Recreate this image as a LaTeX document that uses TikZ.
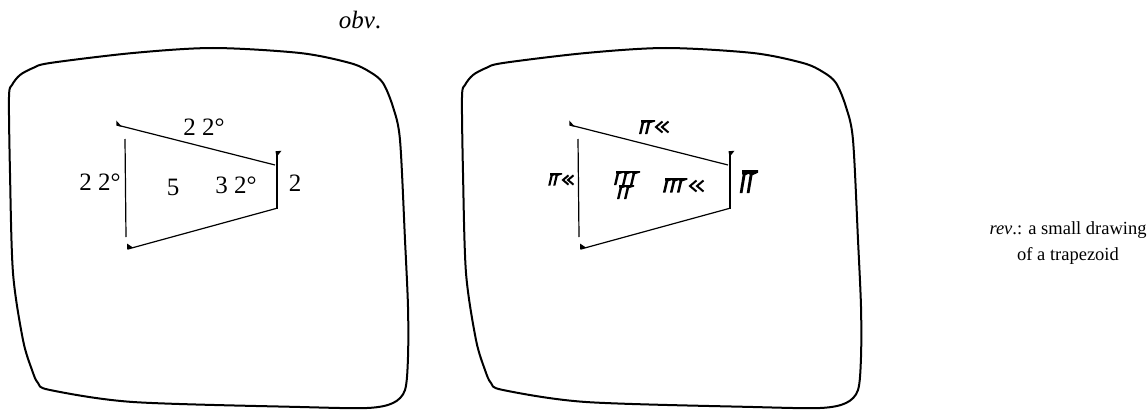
\documentclass[tikz,border=0pt]{standalone}
\usepackage{fontspec}
\setmainfont{Liberation Serif}
\usepackage{tikz}

\tikzset{
  edge/.style={line width=1.2pt},
  rim/.style={line width=2pt, line join=round},
  lbl/.style={font=\fontsize{25}{28}\selectfont, inner sep=1pt},
  note/.style={font=\fontsize{18.5}{26}\selectfont, inner sep=1pt, align=center},
  vwedge/.pic={
    \fill (0,0) -- (8,0) -- (8,1.6) -- (3,3.2) -- (0.4,14) -- (-2,14) -- (0.5,3.2) -- (0,1.7) -- cycle;
  },
  hook/.pic={
    \draw[line width=2pt] (6.5,-5.5) -- (0,0) -- (6.5,5.5);
  },
  tablet/.pic={
    \draw[rim] plot[smooth cycle, tension=0.5] coordinates {(9,97) (12,85) (20,75) (33,68) (50,63) (133,53) (213,48) (300,53) (350,63) (370,72) (383,83) (393,107) (400,140) (405,240) (408,307) (408,357) (405,390) (393,403) (367,408) (300,407) (133,402) (50,390) (38,383) (32,370) (23,340) (13,273) (10,173)};
    \coordinate (-tl) at (117,125);
    \coordinate (-tr) at (275,165);
    \coordinate (-rt) at (276.5,152);
    \coordinate (-rb) at (276.5,209);
    \coordinate (-lt) at (125,139);
    \coordinate (-lb) at (126,237);
    \coordinate (-bl) at (128,249);
    \coordinate (-br) at (276,208.5);
    \draw[edge] (-tl) -- (-tr);
    \draw[edge] (-bl) -- (-br);
    \draw[edge] (-lt) -- (-lb);
    \draw[line width=2pt] (-rt) -- (-rb);
    % wedge heads
    \fill (116.3,120.5) -- (116.3,125.6) -- (122,126.8) -- cycle;
    \fill (127,243.5) -- (127,249.5) -- (133,247.6) -- cycle;
    \fill (275.5,151.2) -- (281.5,150.8) -- (276.5,157) -- cycle;
  },
}

\begin{document}
\begin{tikzpicture}[x=1pt,y=-1pt]
\useasboundingbox (0,0) rectangle (1147,412);

\node[lbl] (obvlabel) at (360,20) {\textit{obv}.};

\pic (ltab) at (0,0) {tablet};
\pic (rtab) at (453,0) {tablet};

% transliteration
\node[lbl] (top22) at (204,127) {2 2°};
\node[lbl] (left22) at (100,182) {2 2°};
\node[lbl] (five) at (173,187) {5};
\node[lbl] (thirty2) at (236,185) {3 2°};
\node[lbl] (two) at (295,183) {2};

% cuneiform
\pic at (641,120) {vwedge};
\pic at (647,120) {vwedge};
\pic at (656,127) {hook};
\pic at (662,127) {hook};

\pic[scale=0.9] at (550,173) {vwedge};
\pic[scale=0.9] at (555,173) {vwedge};
\pic[scale=0.85] at (563,180) {hook};
\pic[scale=0.85] at (568,180) {hook};

\pic at (616,171) {vwedge};
\pic at (624,171) {vwedge};
\pic at (632,171) {vwedge};
\pic at (619,185) {vwedge};
\pic at (626,185) {vwedge};

\pic[scale=1.05] at (665,178) {vwedge};
\pic[scale=1.05] at (672,178) {vwedge};
\pic[scale=1.05] at (679,178) {vwedge};
\pic at (690,186) {hook};
\pic at (697,186) {hook};

\pic[xscale=1.15,yscale=1.65] at (742,170) {vwedge};
\pic[xscale=1.15,yscale=1.65] at (749,170) {vwedge};

\node[note] (revnote) at (1068,243) {\textit{rev}.: a small drawing\\of a trapezoid};
\end{tikzpicture}
\end{document}
